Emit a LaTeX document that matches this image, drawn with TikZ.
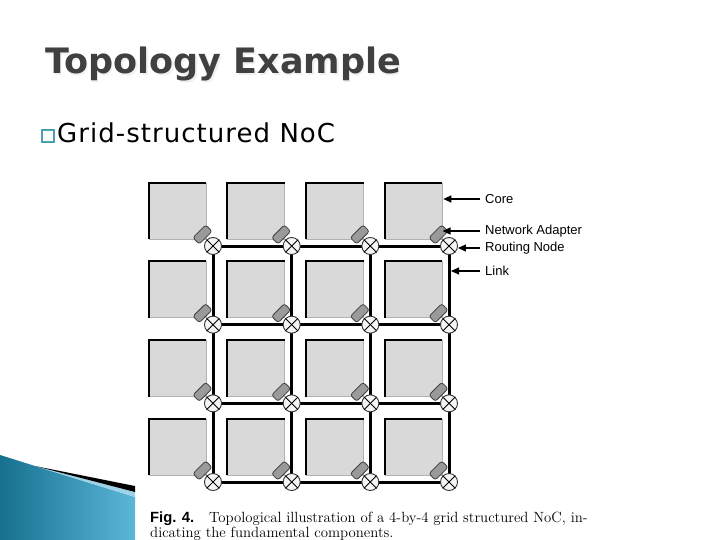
\documentclass[tikz,border=0pt]{standalone}
\usepackage{fontspec}
\newfontfamily\titlefont{DejaVu Sans}
\newfontfamily\subfont[LetterSpace=4]{DejaVu Sans}
\newfontfamily\figfont{Liberation Sans}
\usetikzlibrary{positioning,arrows.meta}

\definecolor{titlegray}{HTML}{404040}
\definecolor{bulletteal}{HTML}{4A9FB2}
\definecolor{coregray}{HTML}{D9D9D9}
\definecolor{adaptergray}{HTML}{9A9A9A}
\definecolor{slideblue}{HTML}{16708E}
\definecolor{slidelight}{HTML}{5BB6D8}

\tikzset{
  core/.style={rectangle, fill=coregray, draw=gray!60, line width=0.6,
    minimum width=57, minimum height=56, inner sep=0},
  router/.style={circle, draw=black!80, fill=gray!8, line width=0.9,
    minimum size=17, inner sep=0},
  adapter/.style={rectangle, rounded corners=2.5, draw=black!75, fill=adaptergray,
    line width=0.8, minimum width=18, minimum height=9, inner sep=0, rotate=45},
  link/.style={line width=3, black},
  tag/.style={font=\figfont\fontsize{13}{15}\selectfont, anchor=west, inner sep=0},
  pointer/.style={-{Triangle[length=8,width=7]}, line width=1.1},
}

\begin{document}
\begin{tikzpicture}[x=1pt, y=-1pt]
  \useasboundingbox (0,0) rectangle (720,540);
  \fill[white] (0,0) rectangle (720,540);

  % slide decoration, lower left
  \shade[left color=slideblue, right color=slidelight]
    (0,455) -- (35,466) -- (135,497) -- (135,540) -- (0,540) -- cycle;
  \fill[slidelight!60!white] (35,466) -- (135,492) -- (135,497) -- cycle;
  \fill[black] (35,466) -- (135,486) -- (135,492) -- cycle;

  % title and bullet
  \node[anchor=base west, inner sep=0, text=gray!12,
    font=\titlefont\bfseries\fontsize{35}{40}\selectfont] at (46.5,75.5) {Topology Example};
  \node[anchor=base west, inner sep=0, text=titlegray,
    font=\titlefont\bfseries\fontsize{35}{40}\selectfont] (title) at (45,74) {Topology Example};
  \node[draw=bulletteal, line width=1.1, minimum size=12, inner sep=0] (bullet) at (48,136) {};
  \node[anchor=base west, inner sep=0,
    font=\subfont\fontsize{26}{30}\selectfont] (sub) at (57,143) {Grid-structured NoC};

  % 4-by-4 grid: cores, adapters, routing nodes
  \foreach \i in {1,...,4} {
    \foreach \j in {1,...,4} {
      \coordinate (p-\i-\j) at ({213+78.67*(\j-1)}, {246+78.67*(\i-1)});
      \node[core] (c-\i-\j) at ([shift={(-35.5,-35)}]p-\i-\j) {};
      \draw[line width=1.8] (c-\i-\j.south west) -- (c-\i-\j.north west) -- (c-\i-\j.north east);
    }
  }

  % links
  \foreach \i in {1,...,4} {
    \draw[link] (p-\i-1) -- (p-\i-4);
    \draw[link] (p-1-\i) -- (p-4-\i);
  }

  \foreach \i in {1,...,4} {
    \foreach \j in {1,...,4} {
      \node[adapter] (a-\i-\j) at ([shift={(-10.5,-11.5)}]p-\i-\j) {};
      \node[router] (r-\i-\j) at (p-\i-\j) {};
      \draw[line width=0.9] (r-\i-\j.45) -- (r-\i-\j.225);
      \draw[line width=0.9] (r-\i-\j.135) -- (r-\i-\j.315);
    }
  }

  % component labels
  \node[tag] (lcore) at (485,199) {Core};
  \node[tag] (ladapter) at (485,231) {Network Adapter};
  \node[tag] (lrouter) at (485,248) {Routing Node};
  \node[tag] (llink) at (485,271) {Link};
  \coordinate (tcore) at (lcore.west -| c-1-4.east);
  \coordinate (tadapter) at ([xshift=4]ladapter.west -| a-1-4.center);
  \coordinate (tlink) at ([xshift=2]llink.west -| p-1-4);
  \draw[pointer] ([xshift=-5]lcore.west) -- ([xshift=1]tcore);
  \draw[pointer] ([xshift=-5]ladapter.west) -- (tadapter);
  \draw[pointer] ([xshift=-5]lrouter.west) -- (lrouter.west -| r-1-4.east);
  \draw[pointer] ([xshift=-5]llink.west) -- (tlink);

  % caption
  \node[anchor=base west, inner sep=0, align=left,
    font=\fontsize{14.8}{15}\selectfont] (caption) at (150,537)
    {{\figfont\bfseries Fig. 4.}\quad Topological illustration of a 4-by-4 grid structured NoC, in-\\
     dicating the fundamental components.};
\end{tikzpicture}
\end{document}
